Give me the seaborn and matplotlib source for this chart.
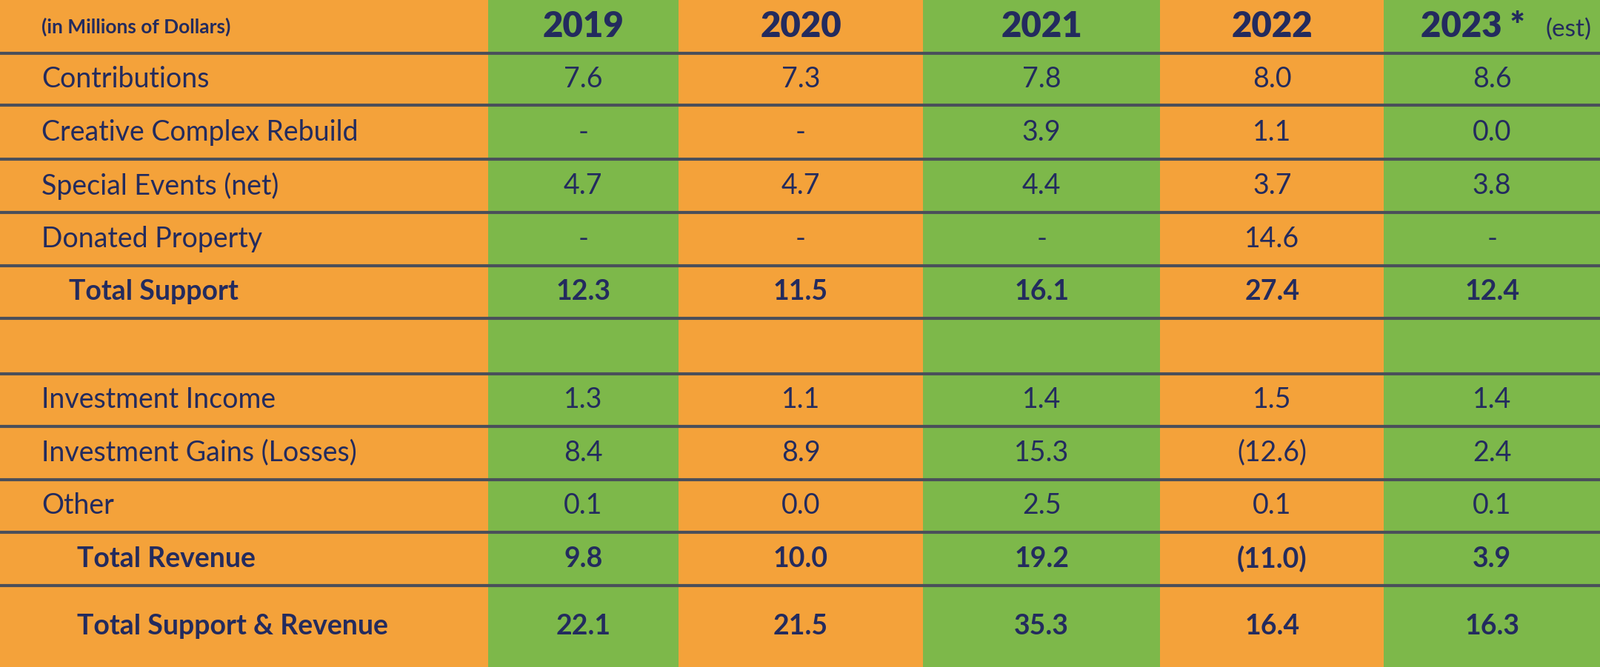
import matplotlib.pyplot as plt
import seaborn as sns

years = ['2019', '2020', '2021', '2022', '2023']
row_labels = [
    'Contributions', 'Creative Complex Rebuild', 'Special Events (net)',
    'Donated Property', 'Total Support', '', 'Investment Income',
    'Investment Gains (Losses)', 'Other', 'Total Revenue',
    'Total Support & Revenue'
]
bold_rows = ['Total Support', 'Total Revenue', 'Total Support & Revenue']
values = {
    '2019': ['7.6', '-', '4.7', '-', '12.3', '', '1.3', '8.4', '0.1', '9.8', '22.1'],
    '2020': ['7.3', '-', '4.7', '-', '11.5', '', '1.1', '8.9', '0.0', '10.0', '21.5'],
    '2021': ['7.8', '3.9', '4.4', '-', '16.1', '', '1.4', '15.3', '2.5', '19.2', '35.3'],
    '2022': ['8.0', '1.1', '3.7', '14.6', '27.4', '', '1.5', '(12.6)', '0.1', '(11.0)', '16.4'],
    '2023': ['8.6', '0.0', '3.8', '-', '12.4', '', '1.4', '2.4', '0.1', '3.9', '16.3'],
}

orange, green = '#F4A23A', '#7DB84A'
navy = '#232B5E'
x_edges = [0, 0.305, 0.424, 0.577, 0.725, 0.865, 1.0]
y_edges = [0, 0.080, 0.158, 0.239, 0.318, 0.398, 0.477, 0.560, 0.639,
           0.719, 0.798, 0.878, 1.0]

sns.set_theme(style='white', font='Lato')
fig = plt.figure(figsize=(21.6, 9.01), dpi=100)
ax = fig.add_axes([0, 0, 1, 1])

# column backgrounds: label column orange, then green/orange alternating
for i, (a, b) in enumerate(zip(x_edges[:-1], x_edges[1:])):
    ax.axvspan(a, b, color=green if i % 2 else orange, lw=0)
for y in y_edges[1:-1]:
    ax.axhline(y, color='#4A4F5A', lw=3)
ax.set_xlim(0, 1)
ax.set_ylim(1, 0)
ax.axis('off')

centers_x = [(a + b) / 2 for a, b in zip(x_edges[:-1], x_edges[1:])]
centers_y = [(a + b) / 2 for a, b in zip(y_edges[:-1], y_edges[1:])]

ax.text(0.026, centers_y[0], '(in Millions of Dollars)', fontsize=19,
        fontweight='bold', color=navy, va='center')
for i, yr in enumerate(years):
    cx = centers_x[i + 1]
    if yr == '2023':
        ax.text(cx - 0.012, centers_y[0], yr + ' *', fontsize=34,
                fontweight='black', color=navy, va='center', ha='center')
        ax.text(cx + 0.048, centers_y[0] + 0.004, '(est)', fontsize=24,
                color=navy, va='center', ha='center')
    else:
        ax.text(cx, centers_y[0], yr, fontsize=34, fontweight='black',
                color=navy, va='center', ha='center')

for r, label in enumerate(row_labels):
    cy = centers_y[r + 1]
    bold = label in bold_rows
    indent = 0.048 if label != 'Total Support' else 0.043
    ax.text(indent if bold else 0.026, cy, label, fontsize=27,
            fontweight='bold' if bold else 'normal', color=navy, va='center')
    for i, yr in enumerate(years):
        ax.text(centers_x[i + 1], cy, values[yr][r], fontsize=27,
                fontweight='bold' if bold else 'normal', color=navy,
                va='center', ha='center')

fig.savefig('out.png', dpi=100)
